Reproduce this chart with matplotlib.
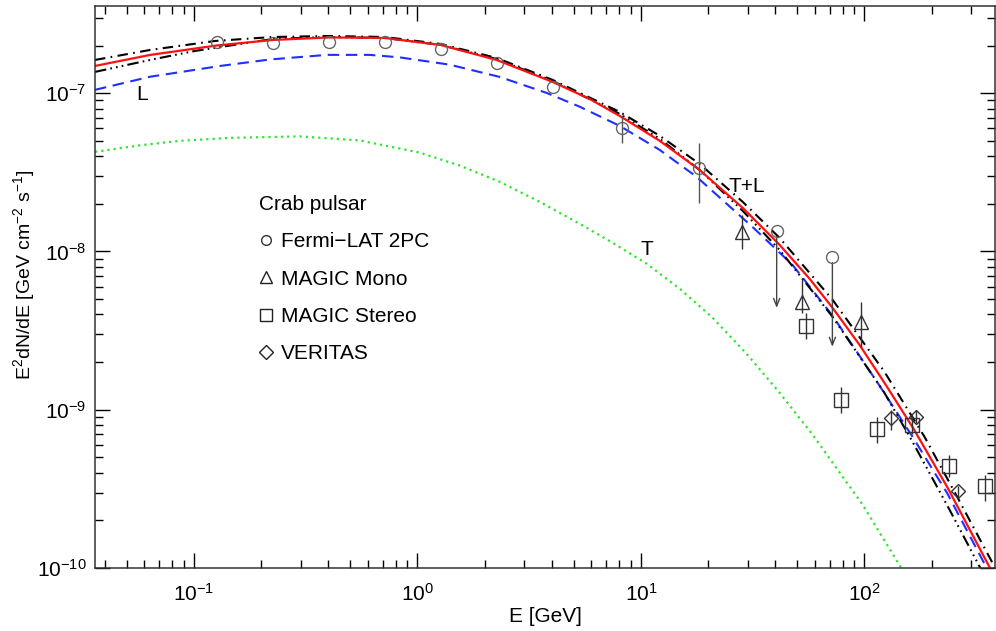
import matplotlib.pyplot as plt
from matplotlib.lines import Line2D

plt.rcParams['font.family'] = ['Liberation Sans', 'DejaVu Sans']
plt.rcParams['mathtext.fontset'] = 'custom'
plt.rcParams['mathtext.rm'] = 'Liberation Sans'
plt.rcParams['mathtext.it'] = 'Liberation Sans:italic'
plt.rcParams['mathtext.default'] = 'regular'

# Curvas del modelo
# T+L (roja)
E_tl = [0.0361, 0.0636, 0.1267, 0.2255, 0.402, 0.714, 1.27, 2.26, 4.03, 5.891, 8.03, 12.14,
        18.28, 28.5, 41.65, 56.77, 71.9, 94.9, 122.7, 165.6, 235.0, 364.6, 385.0]
F_tl = [1.486e-7, 1.744e-7, 2.002e-7, 2.169e-7, 2.25e-7, 2.233e-7, 2.017e-7, 1.622e-7,
        1.178e-7, 9.2e-8, 7.19e-8, 5.0e-8, 3.28e-8, 1.889e-8, 1.104e-8, 6.74e-9, 4.42e-9,
        2.58e-9, 1.486e-9, 7.62e-10, 3.24e-10, 1.0e-10, 8.7e-11]

# L (azul)
E_l = [0.0361, 0.0636, 0.131, 0.2188, 0.394, 0.612, 0.833, 1.394, 2.333, 3.785, 5.315,
       8.03, 12.14, 17.76, 31.55, 47.6, 71.9, 116.8, 163.8, 235.0, 347.5, 385.0]
F_l = [1.05e-7, 1.27e-7, 1.486e-7, 1.633e-7, 1.746e-7, 1.746e-7, 1.684e-7, 1.514e-7,
       1.267e-7, 1.004e-7, 8.22e-8, 6.22e-8, 4.38e-8, 2.96e-8, 1.43e-8, 8.25e-9, 3.94e-9,
       1.42e-9, 6.79e-10, 2.96e-10, 1.04e-10, 7.9e-11]

# T (verde)
E_t = [0.0361, 0.05736, 0.08661, 0.1449, 0.2977, 0.5521, 1.024, 1.546, 2.333, 3.522, 5.315,
       7.465, 10.59, 14.88, 20.9, 29.66, 41.65, 58.5, 97.9, 146.2, 176.0]
F_t = [4.26e-8, 4.685e-8, 5.0e-8, 5.22e-8, 5.335e-8, 5.03e-8, 4.21e-8, 3.49e-8, 2.757e-8,
       2.06e-8, 1.497e-8, 1.136e-8, 8.38e-9, 5.83e-9, 3.82e-9, 2.265e-9, 1.285e-9, 6.99e-10,
       2.526e-10, 1.0e-10, 6.4e-11]

# linea negra punto-raya
E_dd = [0.0361, 0.0636, 0.1244, 0.2255, 0.402, 0.714, 1.27, 2.26, 4.03, 8.03, 12.14, 18.28,
        28.5, 41.65, 71.9, 122.7, 185.3, 252.3, 381.0, 385.0]
F_dd = [1.622e-7, 1.875e-7, 2.138e-7, 2.265e-7, 2.298e-7, 2.265e-7, 2.046e-7, 1.67e-7,
        1.213e-7, 7.62e-8, 5.38e-8, 3.58e-8, 2.062e-8, 1.222e-8, 4.97e-9, 1.744e-9, 6.785e-10,
        3.05e-10, 1.027e-10, 9.7e-11]

# linea negra raya-tres puntos
E_ddd = [0.0361, 0.0636, 0.101, 0.2255, 0.402, 0.714, 1.27, 2.26, 4.03, 8.03, 12.14, 18.28,
         28.5, 41.65, 71.9, 122.7, 163.8, 239.8, 326.5, 384.8]
F_ddd = [1.363e-7, 1.622e-7, 1.848e-7, 2.201e-7, 2.265e-7, 2.233e-7, 2.017e-7, 1.646e-7,
         1.195e-7, 7.40e-8, 5.15e-8, 3.28e-8, 1.809e-8, 1.027e-8, 3.879e-9, 1.285e-9, 6.31e-10,
         2.35e-10, 1.03e-10, 6.65e-11]

# Datos Crab pulsar
fermi_E = [0.127, 0.226, 0.402, 0.714, 1.27, 2.26, 4.03, 8.19, 18.1]
fermi_F = [2.11e-7, 2.08e-7, 2.11e-7, 2.11e-7, 1.90e-7, 1.55e-7, 1.10e-7, 6.04e-8, 3.38e-8]
fermi_lo = [2.11e-7, 2.08e-7, 2.11e-7, 2.11e-7, 1.90e-7, 1.55e-7, 1.10e-7, 4.85e-8, 2.03e-8]
fermi_hi = [2.11e-7, 2.08e-7, 2.11e-7, 2.11e-7, 1.90e-7, 1.55e-7, 1.10e-7, 7.29e-8, 4.85e-8]

fermi_ul_E = [40.5, 71.9]
fermi_ul_F = [1.35e-8, 9.27e-9]
fermi_ul_to = [4.4e-9, 2.5e-9]

mono_E = [28.2, 52.4, 96.2]
mono_F = [1.32e-8, 4.82e-9, 3.56e-9]
mono_lo = [1.03e-8, 4.1e-9, 2.5e-9]
mono_hi = [1.71e-8, 6.84e-9, 4.82e-9]

stereo_E = [54.6, 78.9, 114.0, 163.0, 240.0, 347.0]
stereo_F = [3.40e-9, 1.16e-9, 7.6e-10, 8.0e-10, 4.38e-10, 3.28e-10]
stereo_lo = [2.78e-9, 9.6e-10, 6.2e-10, 7.0e-10, 3.74e-10, 2.64e-10]
stereo_hi = [4.1e-9, 1.40e-9, 9.06e-10, 9.2e-10, 5.2e-10, 3.85e-10]

veritas_E = [132.0, 171.0, 263.0]
veritas_F = [8.9e-10, 9.06e-10, 3.05e-10]
veritas_lo = [7.5e-10, 8.3e-10, 2.8e-10]
veritas_hi = [1.0e-9, 9.9e-10, 3.3e-10]


def barras(F, lo, hi):
    return [[f - l for f, l in zip(F, lo)], [h - f for f, h in zip(F, hi)]]


fig = plt.figure(figsize=(9.96, 6.31), dpi=100)
ax = fig.add_axes([0.0954, 0.0998, 0.9036, 0.8907])

# Curvas
ax.plot(E_t, F_t, color='#2ee62e', lw=1.6, ls=(0, (1, 1.8)))
ax.plot(E_l, F_l, color='#1f2fff', lw=1.5, ls=(0, (5.5, 3.2)))
ax.plot(E_ddd, F_ddd, color='black', lw=1.5, ls=(0, (5.5, 2, 0.8, 2, 0.8, 2, 0.8, 2)))
ax.plot(E_dd, F_dd, color='black', lw=1.5, ls=(0, (5, 2.6, 0.8, 2.6)))
ax.plot(E_tl, F_tl, color='#ff1010', lw=1.6)

# Puntos
ax.errorbar(fermi_E, fermi_F, yerr=barras(fermi_F, fermi_lo, fermi_hi), fmt='o', ms=8.6,
            mfc='none', mec='#666666', mew=1.0, ecolor='#555555', elinewidth=1.0, zorder=5)
ax.plot(fermi_ul_E, fermi_ul_F, 'o', ms=8.6, mfc='none', mec='#666666', mew=1.0, zorder=5)
for e, f, t in zip(fermi_ul_E, fermi_ul_F, fermi_ul_to):
    ax.annotate('', xy=(e, t), xytext=(e, f),
                arrowprops=dict(arrowstyle='->,head_length=0.55,head_width=0.22',
                                color='#444444', lw=1.0, shrinkA=4.3, shrinkB=0))
ax.errorbar(mono_E, mono_F, yerr=barras(mono_F, mono_lo, mono_hi), fmt='^', ms=9.5,
            mfc='none', mec='#333333', mew=1.0, ecolor='#333333', elinewidth=1.0, zorder=5)
ax.errorbar(stereo_E, stereo_F, yerr=barras(stereo_F, stereo_lo, stereo_hi), fmt='s', ms=9.5,
            mfc='none', mec='#333333', mew=1.0, ecolor='#333333', elinewidth=1.0, zorder=5)
ax.errorbar(veritas_E, veritas_F, yerr=barras(veritas_F, veritas_lo, veritas_hi), fmt='D', ms=7,
            mfc='none', mec='#333333', mew=1.0, ecolor='#333333', elinewidth=1.0, zorder=5)

# Etiquetas de las curvas
ax.text(0.0586, 9.75e-8, 'L', fontsize=15, ha='center', va='center')
ax.text(29.9, 2.56e-8, 'T+L', fontsize=15, ha='center', va='center')
ax.text(10.6, 1.03e-8, 'T', fontsize=15, ha='center', va='center')

ax.set_xscale('log')
ax.set_yscale('log')
ax.set_xlim(0.0361, 384)
ax.set_ylim(1e-10, 3.555e-7)

ax.tick_params(which='both', direction='in', top=True, right=True, labelsize=15)
ax.tick_params(which='major', length=10.5, width=1.0, pad=6)
ax.tick_params(which='minor', length=5.5, width=1.0)
ax.tick_params(axis='x', which='major', pad=11)
for s in ax.spines.values():
    s.set_linewidth(1.1)
    s.set_color('#333333')

ax.set_xlabel('E [GeV]', fontsize=15, labelpad=1)
ax.set_ylabel(r'E$^2$dN/dE [GeV cm$^{-2}$ s$^{-1}$]', fontsize=14)
ax.yaxis.set_label_coords(-0.0644, 0.521)

# Leyenda
handles = [
    Line2D([], [], ls='none', marker='o', ms=7, mfc='none', mec='#333333', mew=1.0),
    Line2D([], [], ls='none', marker='^', ms=9, mfc='none', mec='#222222', mew=1.0),
    Line2D([], [], ls='none', marker='s', ms=9, mfc='none', mec='#222222', mew=1.0),
    Line2D([], [], ls='none', marker='D', ms=7, mfc='none', mec='#222222', mew=1.0),
]
labels = ['Fermi\u2212LAT 2PC', 'MAGIC Mono', 'MAGIC Stereo', 'VERITAS']
leg = ax.legend(handles, labels, title='Crab pulsar', loc='upper left',
                bbox_to_anchor=(0.173, 0.679), frameon=False, alignment='left',
                fontsize=15, title_fontsize=15, handlelength=0.7, handletextpad=0.35,
                labelspacing=0.885, borderaxespad=0)

fig.savefig('out.png', dpi=100)
